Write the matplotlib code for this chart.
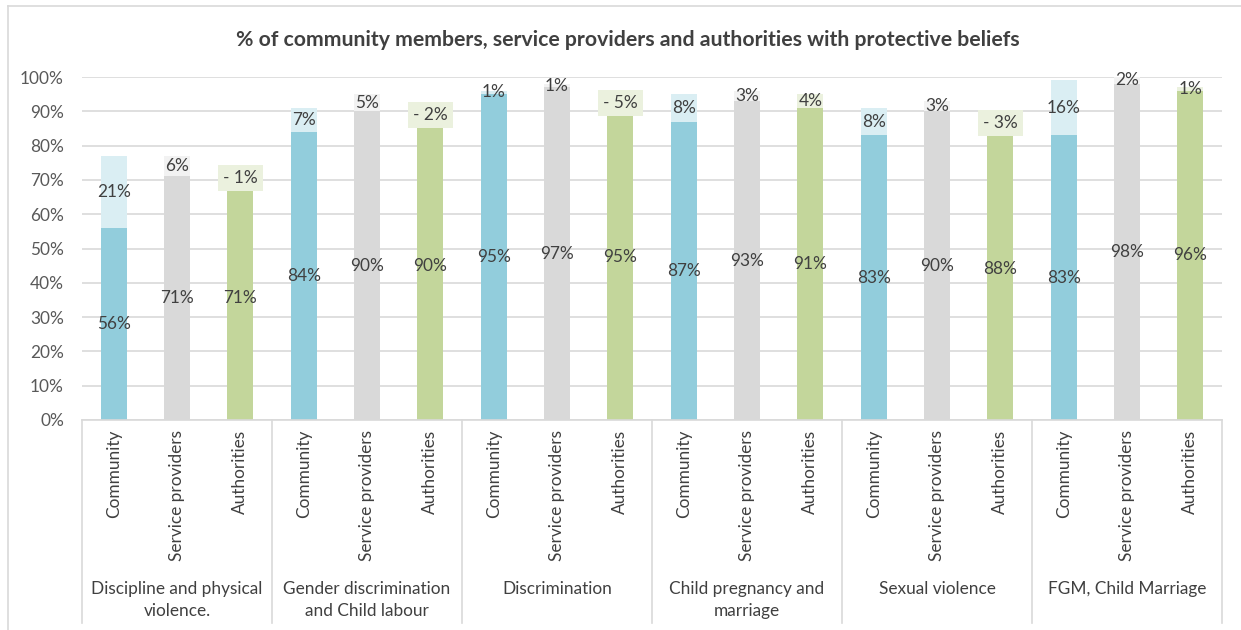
import matplotlib
matplotlib.use("Agg")
import matplotlib.pyplot as plt
from matplotlib.lines import Line2D
import numpy as np

plt.rcParams['font.family'] = ['Lato', 'DejaVu Sans']

groups = ["Discipline and physical\nviolence.", "Gender discrimination\nand Child labour",
          "Discrimination", "Child pregnancy and\nmarriage", "Sexual violence",
          "FGM, Child Marriage"]
roles = ["Community", "Service providers", "Authorities"]

community = [56, 84, 95, 87, 83, 83]
community_change = [21, 7, 1, 8, 8, 16]
providers = [71, 90, 97, 93, 90, 98]
providers_change = [6, 5, 1, 3, 3, 2]
authorities = [71, 90, 95, 91, 88, 96]
authorities_change = [-1, -2, -5, 4, -3, 1]

dark_colors = ["#92CDDC", "#D9D9D9", "#C3D69B"]
light_colors = ["#DAEEF3", "#F2F2F2", "#EBF1DE"]
text_color = "#404040"
grid_color = "#D9D9D9"

W, H = 1241, 630
fig = plt.figure(figsize=(W / 100, H / 100), dpi=100)
ax = fig.add_axes([82 / W, 1 - 420 / H, (1222 - 82) / W, (420 - 77) / H])

series = [(community, community_change), (providers, providers_change),
          (authorities, authorities_change)]
bw = 0.41
fs = 12.4
for r, (vals, chg) in enumerate(series):
    xs = np.arange(len(groups)) * 3 + r
    ax.bar(xs, vals, width=bw, color=dark_colors[r], zorder=2)
    pos = [max(c, 0) for c in chg]
    ax.bar(xs, pos, bottom=vals, width=bw, color=light_colors[r], zorder=2)
    for x, v, c in zip(xs, vals, chg):
        ax.text(x, v / 2, f"{v}%", ha="center", va="center", fontsize=fs,
                color=text_color, zorder=4)
        if c >= 0:
            ax.text(x, v + c / 2, f"{c}%", ha="center", va="center", fontsize=fs,
                    color=text_color, zorder=4)
        else:
            ax.text(x, v + c / 2, f"- {abs(c)}%", ha="center", va="center",
                    fontsize=fs, color=text_color, zorder=4,
                    bbox=dict(boxstyle="square,pad=0.3", fc=light_colors[r], ec="none"))

ax.set_xlim(-0.5, 17.5)
ax.set_ylim(0, 100)
ax.set_yticks(np.arange(0, 101, 10))
ax.set_yticklabels([f"{t}%" for t in range(0, 101, 10)], fontsize=fs, color="#595959")
ax.yaxis.grid(True, color=grid_color, linewidth=1.2, zorder=0)
ax.set_axisbelow(True)
ax.tick_params(axis="y", length=0, pad=13)
ax.set_xticks(np.arange(18))
ax.set_xticklabels(roles * 6, rotation=90, fontsize=fs, color=text_color, va="top")
ax.tick_params(axis="x", length=0, pad=7)
for s in ["top", "right", "left"]:
    ax.spines[s].set_visible(False)
ax.spines["bottom"].set_color(grid_color)
ax.spines["bottom"].set_linewidth(1.2)

# group separators and group labels
sep_bottom = -(623 - 420) / (420 - 77)
for i in range(7):
    xb = i / 6
    ax.add_line(Line2D([xb, xb], [0, sep_bottom], transform=ax.transAxes,
                       color=grid_color, linewidth=1.2, clip_on=False))
for i, g in enumerate(groups):
    ax.text((i + 0.5) / 6, -(581 - 420) / (420 - 77), g, transform=ax.transAxes,
            ha="center", va="top", fontsize=fs, color=text_color, linespacing=1.45)

# title
fig.text(628 / W, 1 - 40 / H,
         "% of community members, service providers and authorities with protective beliefs",
         ha="center", va="center", fontsize=15.3, fontweight="bold", color="#404040")

# chart border
fig.add_artist(Line2D([8 / W, 8 / W], [0, 1 - 6 / H], transform=fig.transFigure,
                      color=grid_color, linewidth=1.2))
fig.add_artist(Line2D([8 / W, 1], [1 - 6 / H, 1 - 6 / H], transform=fig.transFigure,
                      color=grid_color, linewidth=1.2))

fig.savefig("out.png", dpi=100)
